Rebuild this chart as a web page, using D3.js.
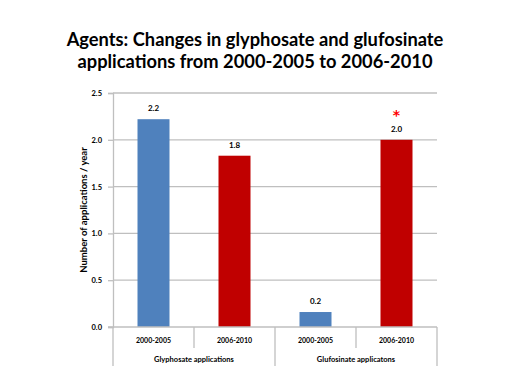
<!DOCTYPE html>
<html><head><meta charset="utf-8">
<script src="https://cdn.jsdelivr.net/npm/d3@7"></script>
<style>body{margin:0;background:#fff}svg{display:block}</style>
</head><body>
<script>
const titleLines = ["Agents: Changes in glyphosate and glufosinate", "applications from 2000-2005 to 2006-2010"];
const periods = ["2000-2005", "2006-2010", "2000-2005", "2006-2010"];
const groups = ["Glyphosate applications", "Glufosinate applicatons"];
const values = [2.22, 1.83, 0.16, 2.0];
const valueLabels = ["2.2", "1.8", "0.2", "2.0"];
const barColors = ["#4f81bd", "#c00000", "#4f81bd", "#c00000"];
const yTicks = [0, 0.5, 1.0, 1.5, 2.0, 2.5];
const starIndex = 3;
const yTitle = "Number of applications / year";

const W = 512, H = 384;
const svg = d3.select("body").append("svg").attr("width", W).attr("height", H);
const m = {left: 113, right: 437, top: 93, bottom: 327};

svg.append("text").attr("x", 255).attr("text-anchor", "middle")
  .attr("font-family", "Lato").attr("font-weight", "bold").attr("font-size", 18.3)
  .selectAll("tspan").data(titleLines).join("tspan")
  .attr("x", 255).attr("y", (d, i) => 46 + i * 22).text(d => d);

const y = d3.scaleLinear().domain([0, 2.5]).range([m.bottom, m.top]);
const x = d3.scaleBand().domain(d3.range(periods.length)).range([m.left, m.right]).paddingInner(0).paddingOuter(0);

// gridlines
svg.append("g").selectAll("line").data(yTicks.filter(d => d > 0)).join("line")
  .attr("x1", m.left).attr("x2", m.right).attr("y1", d => y(d)).attr("y2", d => y(d))
  .attr("stroke", "#bfbfbf").attr("stroke-width", 1.3);

// y axis
const yAxis = svg.append("g").attr("transform", `translate(${m.left},0)`)
  .call(d3.axisLeft(y).tickValues(yTicks).tickFormat(d3.format(".1f")).tickSize(5).tickPadding(6));
yAxis.select(".domain").attr("stroke", "#bfbfbf").attr("stroke-width", 1.3);
yAxis.selectAll(".tick line").attr("stroke", "#bfbfbf").attr("stroke-width", 1.3);
yAxis.selectAll("text").attr("font-family", "Lato").attr("font-weight", "bold").attr("font-size", 7.5).attr("fill", "#000");

// bars
const bw = 32;
svg.append("g").selectAll("rect").data(values).join("rect")
  .attr("x", (d, i) => x(i) + x.bandwidth() / 2 - bw / 2)
  .attr("y", d => y(d)).attr("width", bw).attr("height", d => y(0) - y(d))
  .attr("fill", (d, i) => barColors[i]);

// value labels
svg.append("g").selectAll("text").data(values).join("text")
  .attr("x", (d, i) => x(i) + x.bandwidth() / 2).attr("y", d => y(d) - 8)
  .attr("text-anchor", "middle").attr("font-family", "Lato").attr("font-weight", "bold").attr("font-size", 8)
  .text((d, i) => valueLabels[i]);

// asterisk
svg.append("text").attr("x", x(starIndex) + x.bandwidth() / 2).attr("y", y(values[starIndex]) - 20)
  .attr("text-anchor", "middle").attr("font-family", "DejaVu Sans").attr("font-weight", "bold").attr("font-size", 14)
  .attr("fill", "#ff0000").text("*");

// x axis baseline
svg.append("line").attr("x1", m.left - 5).attr("x2", m.right).attr("y1", y(0)).attr("y2", y(0))
  .attr("stroke", "#bfbfbf").attr("stroke-width", 1.3);

// category dividers
const bounds = d3.range(periods.length + 1).map(i => i < periods.length ? x(i) : m.right);
svg.append("g").selectAll("line").data(bounds).join("line")
  .attr("x1", d => d).attr("x2", d => d).attr("y1", y(0))
  .attr("y2", (d, i) => (i % 2 === 0) ? 366 : 348)
  .attr("stroke", "#bfbfbf").attr("stroke-width", 1.3);

svg.append("g").selectAll("text").data(periods).join("text")
  .attr("x", (d, i) => x(i) + x.bandwidth() / 2).attr("y", 343)
  .attr("text-anchor", "middle").attr("font-family", "Lato").attr("font-weight", "bold").attr("font-size", 7)
  .text(d => d);

svg.append("g").selectAll("text").data(groups).join("text")
  .attr("x", (d, i) => (x(i * 2) + (i === 1 ? m.right : x(2))) / 2).attr("y", 362)
  .attr("text-anchor", "middle").attr("font-family", "Lato").attr("font-weight", "bold").attr("font-size", 7.5)
  .text(d => d);

// y title
svg.append("text").attr("transform", `translate(87,${(m.top + m.bottom) / 2}) rotate(-90)`)
  .attr("text-anchor", "middle").attr("font-family", "Lato").attr("font-weight", "bold").attr("font-size", 9.5)
  .text(yTitle);
</script>
</body></html>
